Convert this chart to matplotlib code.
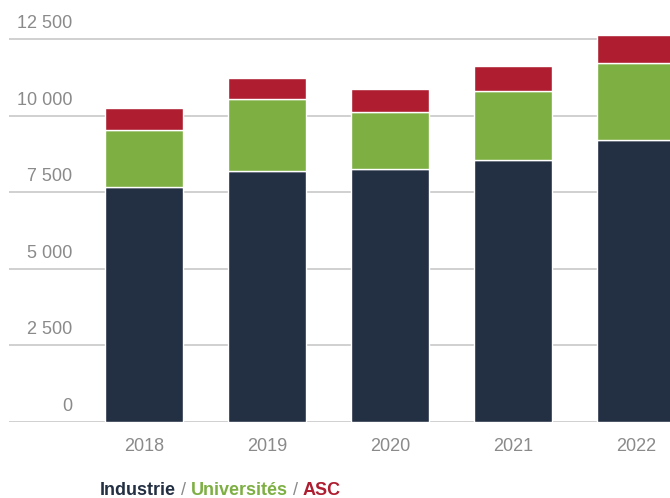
import matplotlib
matplotlib.use('Agg')

import numpy as np
import matplotlib.pyplot as plt

# ------------------------------------------------------------
# data
# ------------------------------------------------------------

years = ['2018', '2019', '2020', '2021', '2022']

industrie = [7670, 8200, 8250, 8550, 9200]
universites = [1850, 2330, 1860, 2250, 2530]
asc = [730, 700, 760, 830, 900]

y_ticks = [0, 2500, 5000, 7500, 10000, 12500]
y_tick_labels = ['0', '2 500', '5 000', '7 500', '10 000', '12 500']

NAVY = '#232f42'
GREEN = '#7daf42'
RED = '#ae1e30'
GRAY = '#8a8a8a'
GRID = '#c8c8c8'

plt.rcParams['font.family'] = ['Liberation Sans', 'DejaVu Sans']

# ------------------------------------------------------------
# figure
# ------------------------------------------------------------

W, H = 670, 498
fig = plt.figure(figsize=(W / 100, H / 100), dpi=100)

ax_left, ax_bottom = 9, 421.7
ax = fig.add_axes([ax_left / W, (H - ax_bottom) / H, (W - ax_left) / W, ax_bottom / H])

x = np.arange(len(years))
width = 0.64

ind = np.array(industrie)
uni = np.array(universites)
a = np.array(asc)

ax.bar(x, ind, width, color=NAVY, edgecolor='white', linewidth=1.0, zorder=3)
ax.bar(x, uni, width, bottom=ind, color=GREEN, edgecolor='white', linewidth=1.0, zorder=3)
ax.bar(x, a, width, bottom=ind + uni, color=RED, edgecolor='white', linewidth=1.0, zorder=3)

ax.set_xlim(-1.098, 4.276)
ax.set_ylim(0, 421.7 / (76.5 / 2500))

# gridlines with labels sitting above them
for v in y_ticks:
    ax.axhline(v, color=GRID, linewidth=1.2, zorder=1)

for v, lab in zip(y_ticks, y_tick_labels):
    ax.annotate(
        lab,
        xy=(0, v),
        xycoords=('axes fraction', 'data'),
        xytext=(45.4, 7.8),
        textcoords='offset points',
        ha='right',
        va='baseline',
        fontsize=13,
        color=GRAY
    )

ax.set_yticks([])
ax.set_xticks(x)
ax.set_xticklabels(years, fontsize=13, color=GRAY)
ax.tick_params(axis='x', length=0, pad=12)

for s in ax.spines.values():
    s.set_visible(False)

# ------------------------------------------------------------
# coloured legend line
# ------------------------------------------------------------

parts = [
    ('Industrie', NAVY, 'bold'),
    (' / ', GRAY, 'normal'),
    ('Universités', GREEN, 'bold'),
    (' / ', GRAY, 'normal'),
    ('ASC', RED, 'bold'),
]

anchor = None
for txt, col, wt in parts:
    if anchor is None:
        anchor = ax.annotate(
            txt, xy=(100 / W, 3.5 / H), xycoords='figure fraction',
            color=col, fontweight=wt, fontsize=13, va='baseline', ha='left'
        )
    else:
        anchor = ax.annotate(
            txt, xy=(1, 0), xycoords=anchor,
            color=col, fontweight=wt, fontsize=13, va='bottom', ha='left'
        )

plt.savefig('out.png', dpi=100)
